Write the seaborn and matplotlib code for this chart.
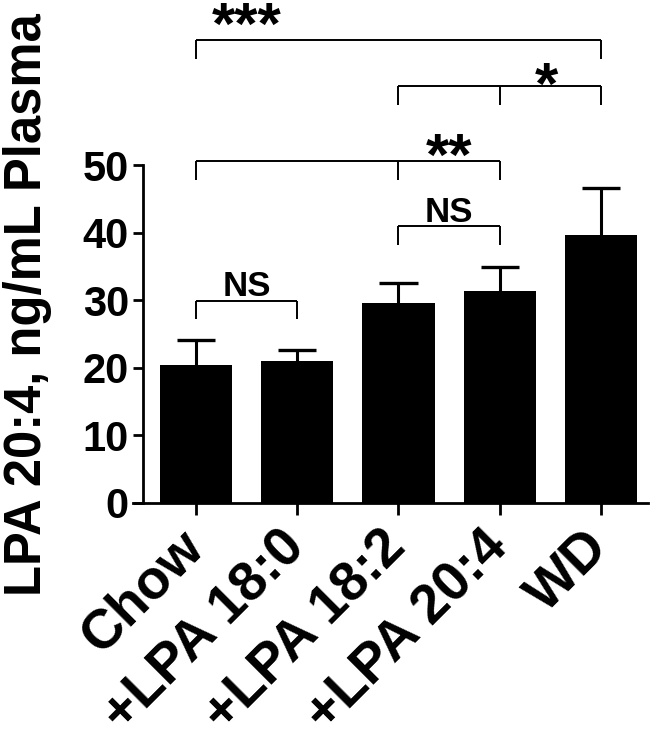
import matplotlib
matplotlib.use("Agg")
import matplotlib.pyplot as plt
import seaborn as sns
import pandas as pd
import numpy as np

# ---- data ----
categories = ["Chow", "+LPA 18:0", "+LPA 18:2", "+LPA 20:4", "WD"]
means = [20.4, 21.0, 29.5, 31.3, 39.6]
err_upper = [3.7, 1.6, 3.1, 3.6, 7.0]
y_ticks = [0, 10, 20, 30, 40, 50]
ylabel_text = "LPA 20:4, ng/mL Plasma"

# significance brackets: positions (category indices), bracket height, label
bracket_groups = [[0, 1], [2, 3], [0, 2, 3], [2, 3, 4], [0, 4]]
bracket_heights = [29.9, 40.9, 50.6, 61.7, 68.5]
bracket_labels = ["NS", "NS", "**", "*", "***"]
label_x = [0.5, 2.5, 2.5, 3.46, 0.5]
label_y = [30.6, 41.6, 48.6, 59.0, 67.9]

# ---- style ----
sns.set_theme(style="white")
plt.rcParams['font.family'] = ['Liberation Sans', 'DejaVu Sans']
plt.rcParams['font.weight'] = 'bold'

W, H = 657, 746
fig = plt.figure(figsize=(W / 100, H / 100), dpi=100)
ax = fig.add_axes([133 / W, (H - 502.7) / H, (648 - 133) / W, 502.7 / H])

df = pd.DataFrame({"group": categories, "value": means})
sns.barplot(data=df, x="group", y="value", color="black", width=0.715,
            errorbar=None, saturation=1, ax=ax, zorder=2,
            edgecolor="black", linewidth=0)

# upward-only error bars
xpos = np.arange(len(means))
tops = np.array(means) + np.array(err_upper)
cap_half = 0.19
ax.vlines(xpos, means, tops, color="black", lw=2.2, zorder=1)
ax.hlines(tops, xpos - cap_half, xpos + cap_half, color="black", lw=2.4,
          zorder=1)

ax.set_xlim(-0.622, 4.464)
ax.set_ylim(0, 74.43)
for s in ["top", "right"]:
    ax.spines[s].set_visible(False)
ax.spines["left"].set_position(("data", -0.523))
ax.spines["left"].set_bounds(0, 50)
for s in ["left", "bottom"]:
    ax.spines[s].set_linewidth(2.0)
    ax.spines[s].set_color("black")

ax.set_yticks(y_ticks)
ax.tick_params(axis="y", length=7.2, width=2.0, pad=3, labelsize=30,
               colors="black", left=True)
ax.tick_params(axis="x", length=8.6, width=2.0, pad=18, labelsize=39.5,
               colors="black", bottom=True)
ax.set_xticks(range(len(categories)))
ax.set_xticklabels(categories, rotation=45, ha="right", va="center",
                   rotation_mode="anchor", fontweight="bold")
for lab in ax.get_yticklabels():
    lab.set_fontweight("bold")

ax.set_xlabel("")
ax.set_ylabel(ylabel_text, fontsize=36.5, fontweight="bold", color="black")
ax.yaxis.label.set_rotation_mode("default")
ax.yaxis.label.set_va("center")
ax.yaxis.label.set_ha("center")
ax.yaxis.set_label_coords((28 - 133) / 515, (502.7 - 305) / 502.7)

# brackets
drop = 2.75
for grp, h, lab, lx, ly in zip(bracket_groups, bracket_heights, bracket_labels, label_x, label_y):
    ax.plot([grp[0], grp[-1]], [h, h], color="black", lw=1.4, clip_on=False,
            solid_capstyle="butt")
    for g in grp:
        ax.plot([g, g], [h, h - drop], color="black", lw=1.4, clip_on=False,
                solid_capstyle="butt")
    fs = 25 if lab == "NS" else 43
    ax.text(lx, ly, lab, ha="center", va="baseline", fontsize=fs,
            fontweight="bold", color="black", clip_on=False)

ax.grid(False)
fig.savefig("out.png", dpi=100)
